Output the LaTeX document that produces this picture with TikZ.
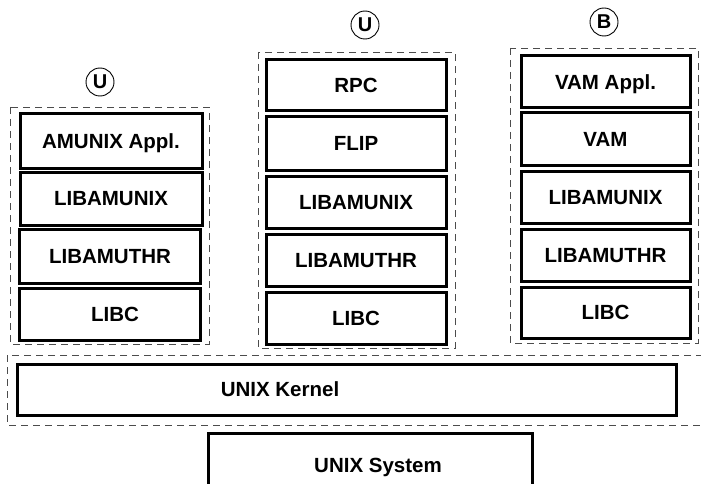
\documentclass[tikz,border=0pt]{standalone}
\usepackage{fontspec}
\setmainfont{Liberation Sans}
\usepackage{tikz}

\begin{document}
\begin{tikzpicture}[x=1pt, y=-1pt,
                layer/.style={draw, line width=3pt, inner sep=0pt, text depth=0pt,
                  font=\fontsize{20.5}{24}\selectfont\bfseries},
                frame/.style={draw=black!70, dashed, line width=0.9pt, dash pattern=on 7pt off 5pt},
                tag/.style={circle, draw, line width=0.9pt, minimum size=28pt, inner sep=0pt,
                  text depth=0pt, font=\fontsize{20}{24}\selectfont\bfseries},
                plain/.style={text depth=0pt, font=\fontsize{20.5}{24}\selectfont\bfseries}]

  \useasboundingbox (0,0) rectangle (701,484);

  % left column
  \draw[frame] (10,107) rectangle (209,344);
  \node[tag] (UL) at (100,82) {U};
  \node[layer, minimum width=182pt, minimum height=54pt] (AA) at (111,141) {AMUNIX Appl.};
  \node[layer, minimum width=182pt, minimum height=53pt] (LAL) at (111,198.5) {LIBAMUNIX};
  \node[layer, minimum width=181pt, minimum height=54pt] (LTL) at (110,256) {LIBAMUTHR};
  \node[layer, minimum width=181pt, minimum height=52pt] (LCL) at (110,314) {\hspace{10pt}LIBC};

  % middle column
  \draw[frame] (258,52) rectangle (455,348);
  \node[tag] (UM) at (365,25) {U};
  \node[layer, minimum width=180pt, minimum height=51pt] (RPC) at (356,85.5) {RPC};
  \node[layer, minimum width=180pt, minimum height=53pt] (FLIP) at (356,143.5) {FLIP};
  \node[layer, minimum width=180pt, minimum height=52pt] (LAM) at (356,202) {LIBAMUNIX};
  \node[layer, minimum width=180pt, minimum height=52pt] (LTM) at (356,260) {LIBAMUTHR};
  \node[layer, minimum width=180pt, minimum height=52pt] (LCM) at (356,318) {LIBC};

  % right column
  \draw[frame] (510,48) rectangle (698,343);
  \node[tag] (BR) at (604,22) {B};
  \node[layer, minimum width=169pt, minimum height=52pt] (VA) at (605.5,82) {VAM Appl.};
  \node[layer, minimum width=169pt, minimum height=52pt] (VAM) at (605.5,139) {VAM};
  \node[layer, minimum width=169pt, minimum height=52pt] (LAR) at (605.5,197) {LIBAMUNIX};
  \node[layer, minimum width=169pt, minimum height=52pt] (LTR) at (605.5,255) {LIBAMUTHR};
  \node[layer, minimum width=169pt, minimum height=51pt] (LCR) at (605.5,312.5) {LIBC};

  % kernel
  \draw[frame] (7,355) rectangle (705,425);
  \node[layer, minimum width=659pt, minimum height=51pt] (kernel) at (346.5,389.5) {};
  \node[plain] (kernel text) at (280,389) {UNIX Kernel};

  % system
  \node[layer, minimum width=324pt, minimum height=62pt] (system) at (370,464) {};
  \node[plain] (system text) at (378,465) {UNIX System};
\end{tikzpicture}
\end{document}
